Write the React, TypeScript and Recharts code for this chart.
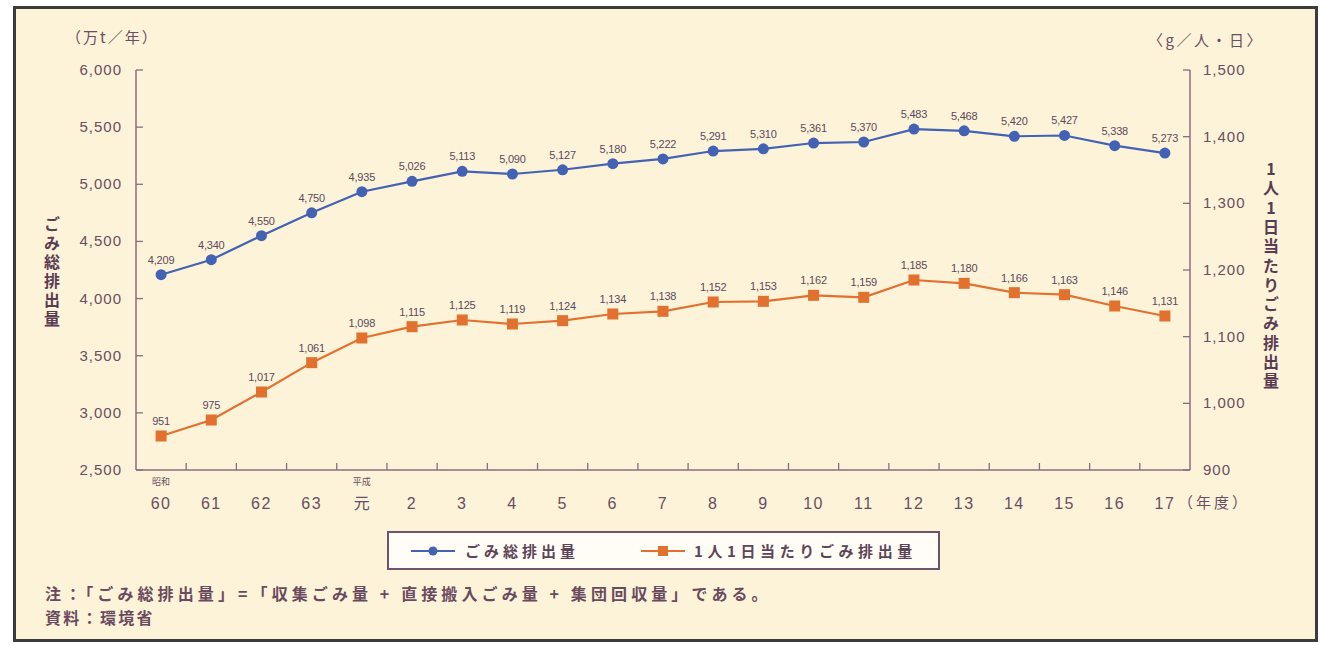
import React from "react";
import { LineChart, Line, XAxis, YAxis, LabelList } from "recharts";

const yearLabels = ["60","61","62","63","元","2","3","4","5","6","7","8","9","10","11","12","13","14","15","16","17"];
const eraLabels: Record<number, string> = { 0: "昭和", 4: "平成" };
const totalWaste = [4209,4340,4550,4750,4935,5026,5113,5090,5127,5180,5222,5291,5310,5361,5370,5483,5468,5420,5427,5338,5273];
const perCapita = [951,975,1017,1061,1098,1115,1125,1119,1124,1134,1138,1152,1153,1162,1159,1185,1180,1166,1163,1146,1131];
const leftTicks = [2500,3000,3500,4000,4500,5000,5500,6000];
const rightTicks = [900,1000,1100,1200,1300,1400,1500];
const seriesNames = ["ごみ総排出量", "1人1日当たりごみ排出量"];

const data = yearLabels.map((label, i) => ({ idx: i, label, total: totalWaste[i], perCapita: perCapita[i] }));
const xTicks = [
  ...yearLabels.map((_, i) => i),
  ...yearLabels.slice(1).map((_, i) => i + 0.5),
];

const BLUE = "#4462b4";
const ORANGE = "#e2712f";
const AXIS = "#8c6c80";
const TEXT = "#6a4e62";
const BG = "#fcf3d9";
const FONT = "'Liberation Sans', Arial, sans-serif";
const CJK = "'Noto Sans CJK JP', sans-serif";

const fmt = (v: any) => Number(v).toLocaleString("en-US");

const LeftTick = (p: any) => (
  <g>
    <line x1={p.x} x2={p.x + 7} y1={p.y} y2={p.y} stroke={AXIS} strokeWidth={1.3} />
    <text x={p.x - 14} y={p.y + 5} textAnchor="end" fontSize={15} fill={TEXT} fontFamily={FONT} letterSpacing={1}>
      {fmt(p.payload.value)}
    </text>
  </g>
);

const RightTick = (p: any) => (
  <g>
    <line x1={p.x - 7} x2={p.x} y1={p.y} y2={p.y} stroke={AXIS} strokeWidth={1.3} />
    <text x={p.x + 13} y={p.y + 5} textAnchor="start" fontSize={15} fill={TEXT} fontFamily={FONT} letterSpacing={1}>
      {fmt(p.payload.value)}
    </text>
  </g>
);

const BottomTick = (p: any) => {
  const v = p.payload.value;
  if (!Number.isInteger(v)) {
    return <line x1={p.x} x2={p.x} y1={p.y} y2={p.y - 7} stroke={AXIS} strokeWidth={1.3} />;
  }
  return (
    <g>
      {eraLabels[v] && (
        <text x={p.x} y={p.y + 15} textAnchor="middle" fontSize={9} fill={TEXT} fontFamily={CJK}>
          {eraLabels[v]}
        </text>
      )}
      <text x={p.x} y={p.y + 39} textAnchor="middle" fontSize={16} fill={TEXT} fontFamily={v === 4 ? CJK : FONT} letterSpacing={v === 4 ? 0 : 1.5}>
        {yearLabels[v]}
      </text>
    </g>
  );
};

const ValueLabel = (p: any) => (
  <text x={p.x} y={p.y - 11} textAnchor="middle" fontSize={11} fill="#5c4a5c" fontFamily={FONT} letterSpacing={-0.2}>
    {fmt(p.value)}
  </text>
);

const Square = (p: any) => (
  <rect x={p.cx - 5.5} y={p.cy - 5.5} width={11} height={11} fill={ORANGE} />
);

export default function App() {
  return (
    <div style={{ position: "absolute", left: 0, top: 0, width: 1324, height: 645, background: "#ffffff", overflow: "hidden" }}>
      <div style={{ position: "absolute", left: 13, top: 6, width: 1305, height: 636, background: BG, border: "3px solid #3d3a3c", boxSizing: "border-box" }} />
      <div style={{ position: "absolute", left: 0, top: 0 }}>
        <LineChart width={1324} height={645} data={data} margin={{ top: 70, right: 0, bottom: 0, left: 0 }}>
          <XAxis
            dataKey="idx"
            type="number"
            domain={[-0.5, 20.5]}
            ticks={xTicks}
            interval={0}
            height={175}
            tickSize={0}
            tickMargin={0}
            tickLine={false}
            stroke={AXIS}
            axisLine={{ stroke: AXIS, strokeWidth: 1.5 }}
            tick={<BottomTick />}
          />
          <YAxis
            yAxisId="left"
            orientation="left"
            width={136}
            domain={[2500, 6000]}
            ticks={leftTicks}
            interval={0}
            tickSize={0}
            tickMargin={0}
            tickLine={false}
            axisLine={{ stroke: AXIS, strokeWidth: 1.5 }}
            tick={<LeftTick />}
          />
          <YAxis
            yAxisId="right"
            orientation="right"
            width={134}
            domain={[900, 1500]}
            ticks={rightTicks}
            interval={0}
            tickSize={0}
            tickMargin={0}
            tickLine={false}
            axisLine={{ stroke: AXIS, strokeWidth: 1.5 }}
            tick={<RightTick />}
          />
          <Line
            yAxisId="left"
            dataKey="total"
            name={seriesNames[0]}
            stroke={BLUE}
            strokeWidth={2.2}
            dot={{ r: 5.5, fill: BLUE, stroke: "none" }}
            isAnimationActive={false}
          >
            <LabelList dataKey="total" content={<ValueLabel />} />
          </Line>
          <Line
            yAxisId="right"
            dataKey="perCapita"
            name={seriesNames[1]}
            stroke={ORANGE}
            strokeWidth={2.2}
            dot={<Square />}
            isAnimationActive={false}
          >
            <LabelList dataKey="perCapita" content={<ValueLabel />} />
          </Line>
        </LineChart>
      </div>

      {/* axis units */}
      <div style={{ position: "absolute", left: 66, top: 26, fontFamily: CJK, fontSize: 15, color: TEXT, whiteSpace: "nowrap", letterSpacing: 2 }}>（万t／年）</div>
      <div style={{ position: "absolute", left: 1148, top: 29, fontFamily: CJK, fontSize: 15, color: TEXT, whiteSpace: "nowrap", letterSpacing: 2.5 }}>〈g／人・日〉</div>
      <div style={{ position: "absolute", left: 1178, top: 491, fontFamily: CJK, fontSize: 15, color: TEXT, whiteSpace: "nowrap", letterSpacing: 3 }}>（年度）</div>

      {/* vertical titles */}
      <div style={{ position: "absolute", left: 44, top: 216, writingMode: "vertical-rl", fontFamily: CJK, fontSize: 16, fontWeight: 700, color: "#5a3c52", lineHeight: 1, letterSpacing: 3 }}>
        {seriesNames[0]}
      </div>
      <div style={{ position: "absolute", left: 1263, top: 161, writingMode: "vertical-rl", textOrientation: "upright", fontFamily: CJK, fontSize: 16, fontWeight: 700, color: "#5a3c52", lineHeight: 1, letterSpacing: 3.3 } as any}>
        {seriesNames[1]}
      </div>

      {/* legend */}
      <div style={{ position: "absolute", left: 387, top: 531, width: 553, height: 39, boxSizing: "border-box", background: "#fffdf6", border: "2px solid #6e5468", fontFamily: CJK, fontSize: 15, fontWeight: 700, color: "#5e4458" }}>
        <svg width={44} height={12} style={{ position: "absolute", left: 22, top: 12 }}>
          <line x1={0} x2={44} y1={6} y2={6} stroke={BLUE} strokeWidth={2} />
          <circle cx={22} cy={6} r={4.5} fill={BLUE} />
        </svg>
        <div style={{ position: "absolute", left: 76, top: 8, whiteSpace: "nowrap", lineHeight: "20px", letterSpacing: 4 }}>{seriesNames[0]}</div>
        <svg width={44} height={12} style={{ position: "absolute", left: 252, top: 12 }}>
          <line x1={0} x2={44} y1={6} y2={6} stroke={ORANGE} strokeWidth={2} />
          <rect x={17} y={1} width={10} height={10} fill={ORANGE} />
        </svg>
        <div style={{ position: "absolute", left: 305, top: 8, whiteSpace: "nowrap", lineHeight: "20px", letterSpacing: 4.6 }}>{seriesNames[1]}</div>
      </div>

      {/* notes */}
      <div style={{ position: "absolute", left: 45, top: 581, fontFamily: CJK, fontSize: 16, fontWeight: 700, color: "#6a4a5e", whiteSpace: "nowrap", lineHeight: "24px" }}>
        <div style={{ letterSpacing: 4.1 }}>注：「ごみ総排出量」=「収集ごみ量 + 直接搬入ごみ量 + 集団回収量」である。</div>
        <div style={{ letterSpacing: 2.3 }}>資料：環境省</div>
      </div>
    </div>
  );
}
